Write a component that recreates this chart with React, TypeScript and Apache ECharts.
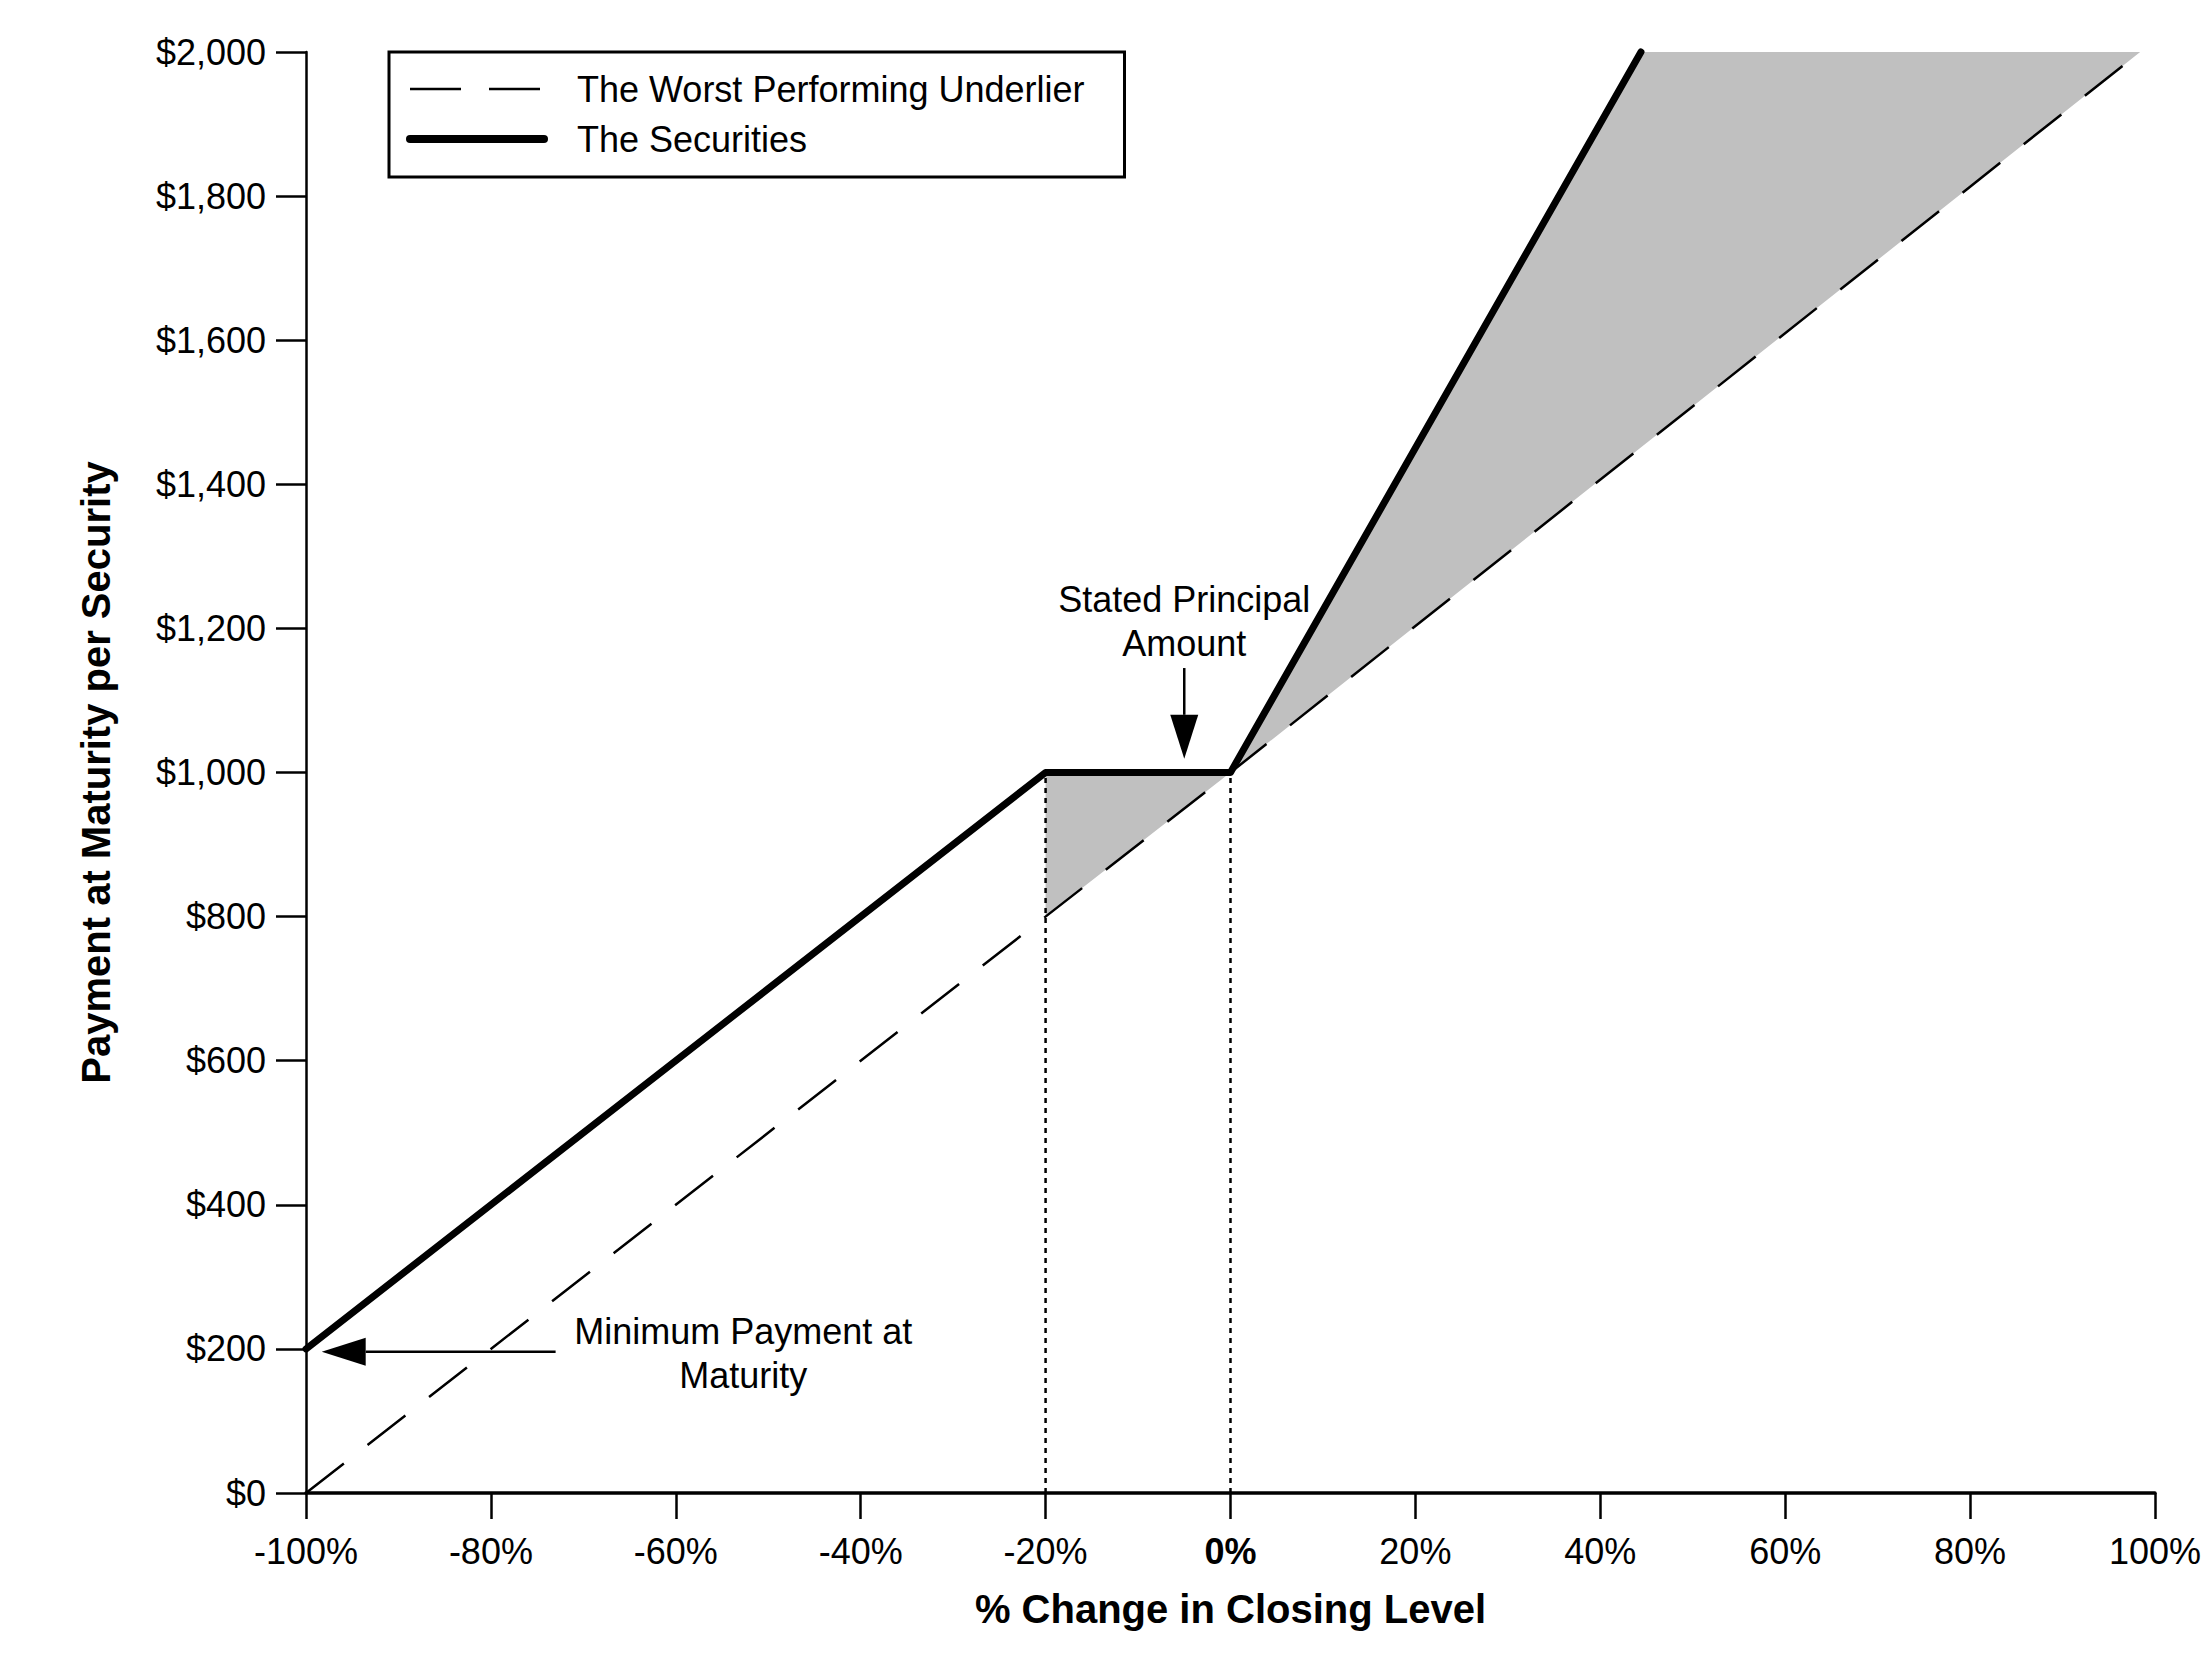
import { useEffect, useRef } from "react";
import * as echarts from "echarts";

const FONT = '"Liberation Sans", Arial, Helvetica, sans-serif';

const UNDERLIER_NAME = "The Worst Performing Underlier";
const SECURITIES_NAME = "The Securities";

// [% change in closing level, payment at maturity per security ($)]
const underlier = [
  [-100, 0],
  [0, 1000],
  [98.4, 2000],
];
const securities = [
  [-100, 200],
  [-20, 1000],
  [0, 1000],
  [44.4, 2000],
];
// grey band between the securities and the underlier
const shadeArea = [
  [-20, 1000],
  [0, 1000],
  [44.4, 2000],
  [98.4, 2000],
  [0, 1000],
  [-20, 800],
];
// dotted drop lines at the buffer and at 0%
const dropLines = [
  [
    [-20, 0],
    [-20, 1000],
  ],
  [
    [0, 0],
    [0, 1000],
  ],
];

// annotation arrows: [from, tip]
const principalArrow = [
  [-5, 1145],
  [-5, 1019],
];
const minimumArrow = [
  [-73, 196],
  [-98.3, 196],
];
// annotation text anchors (centre of the text block)
const principalLabel = { at: [-5, 1209], text: "Stated Principal\nAmount" };
const minimumLabel = { at: [-52.7, 193], text: "Minimum Payment at\nMaturity" };

const xAxisTitle = "% Change in Closing Level";
const yAxisTitle = "Payment at Maturity per Security";

const App = () => {
  const chartRef = useRef<HTMLDivElement>(null);

  useEffect(() => {
    const chart = echarts.init(chartRef.current, null, { renderer: "svg" });

    const option: any = {
      animation: false,
      textStyle: { fontFamily: FONT, color: "#000" },
      grid: { left: 306, right: 40, top: 52, bottom: 171, containLabel: false },
      legend: {
        left: 389,
        top: 52,
        orient: "vertical",
        selectedMode: false,
        itemWidth: 134,
        itemHeight: 20,
        itemGap: 10,
        padding: [17, 40, 18, 17],
        borderColor: "#000",
        borderWidth: 3,
        itemStyle: { opacity: 0 },
        textStyle: {
          fontFamily: FONT,
          fontSize: 36,
          color: "#000",
          lineHeight: 40,
          padding: [0, 0, 0, 28],
        },
        data: [
          {
            name: UNDERLIER_NAME,
            itemStyle: { opacity: 0 },
            lineStyle: { type: [51, 28], width: 2.5, color: "#000" },
          },
          {
            name: SECURITIES_NAME,
            itemStyle: { opacity: 0 },
            lineStyle: { width: 8, color: "#000", cap: "round" },
          },
        ],
      },
      xAxis: {
        type: "value",
        min: -100,
        max: 100,
        interval: 20,
        name: xAxisTitle,
        nameLocation: "middle",
        nameGap: 96,
        nameTextStyle: { fontFamily: FONT, fontSize: 40, fontWeight: "bold", color: "#000" },
        axisLine: { onZero: false, lineStyle: { color: "#000", width: 3.5 } },
        axisTick: { length: 26, lineStyle: { color: "#000", width: 2.5 } },
        splitLine: { show: false },
        axisLabel: {
          margin: 40,
          fontSize: 36,
          fontFamily: FONT,
          color: "#000",
          formatter: (v: number) => (v === 0 ? "{b|0%}" : v + "%"),
          rich: { b: { fontSize: 36, fontFamily: FONT, fontWeight: "bold", color: "#000" } },
        },
      },
      yAxis: {
        type: "value",
        min: 0,
        max: 2000,
        interval: 200,
        name: yAxisTitle,
        nameLocation: "middle",
        nameGap: 190,
        nameTextStyle: { fontFamily: FONT, fontSize: 40, fontWeight: "bold", color: "#000" },
        axisLine: { show: true, onZero: false, lineStyle: { color: "#000", width: 2.5 } },
        axisTick: { show: true, length: 30, lineStyle: { color: "#000", width: 2.5 } },
        splitLine: { show: false },
        axisLabel: {
          margin: 40,
          fontSize: 36,
          fontFamily: FONT,
          color: "#000",
          formatter: (v: number) => "$" + v.toLocaleString("en-US"),
        },
      },
      series: [
        {
          type: "custom",
          silent: true,
          z: 1,
          clip: false,
          data: [shadeArea[0]],
          renderItem: (_params: any, api: any) => ({
            type: "polygon",
            shape: { points: shadeArea.map((p) => api.coord(p)) },
            style: { fill: "#c0c0c0" },
          }),
        },
        ...dropLines.map((d) => ({
          type: "line",
          data: d,
          symbol: "none",
          silent: true,
          z: 2,
          lineStyle: { color: "#000", width: 2.5, type: [5, 5] },
        })),
        {
          name: UNDERLIER_NAME,
          type: "line",
          data: underlier,
          symbol: "none",
          z: 3,
          lineStyle: { color: "#000", width: 2.5, type: [48, 30] },
        },
        {
          name: SECURITIES_NAME,
          type: "line",
          data: securities,
          symbol: "none",
          clip: false,
          z: 4,
          lineStyle: { color: "#000", width: 7, cap: "round", join: "round" },
        },
      ],
    };
    chart.setOption(option);

    // 注释：箭头和文字，用坐标转换放到数据位置上
    const toPx = (p: number[]) => chart.convertToPixel({ gridIndex: 0 }, p) as number[];
    const arrow = (pts: number[][], headLen = 44, headW = 28) => {
      const [fx, fy] = toPx(pts[0]);
      const [tx, ty] = toPx(pts[1]);
      const len = Math.hypot(tx - fx, ty - fy);
      const dx = (tx - fx) / len;
      const dy = (ty - fy) / len;
      const bx = tx - dx * headLen;
      const by = ty - dy * headLen;
      const nx = -dy * (headW / 2);
      const ny = dx * (headW / 2);
      return [
        {
          type: "line",
          shape: { x1: fx, y1: fy, x2: bx, y2: by },
          style: { stroke: "#000", lineWidth: 2.5 },
          z: 10,
        },
        {
          type: "polygon",
          shape: {
            points: [
              [tx, ty],
              [bx + nx, by + ny],
              [bx - nx, by - ny],
            ],
          },
          style: { fill: "#000" },
          z: 10,
        },
      ];
    };
    const label = (l: { at: number[]; text: string }) => {
      const [x, y] = toPx(l.at);
      return {
        type: "text",
        x,
        y,
        z: 10,
        style: {
          text: l.text,
          fontFamily: FONT,
          fontSize: 36,
          lineHeight: 44,
          fill: "#000",
          align: "center",
          verticalAlign: "middle",
        },
      };
    };

    chart.setOption({
      graphic: [
        ...arrow(principalArrow),
        ...arrow(minimumArrow),
        label(principalLabel),
        label(minimumLabel),
      ],
    });

    return () => {
      chart.dispose();
    };
  }, []);

  return (
    <div
      ref={chartRef}
      style={{ position: "absolute", left: 0, top: 0, width: 2204, height: 1664, background: "#fff" }}
    />
  );
};

export default App;
